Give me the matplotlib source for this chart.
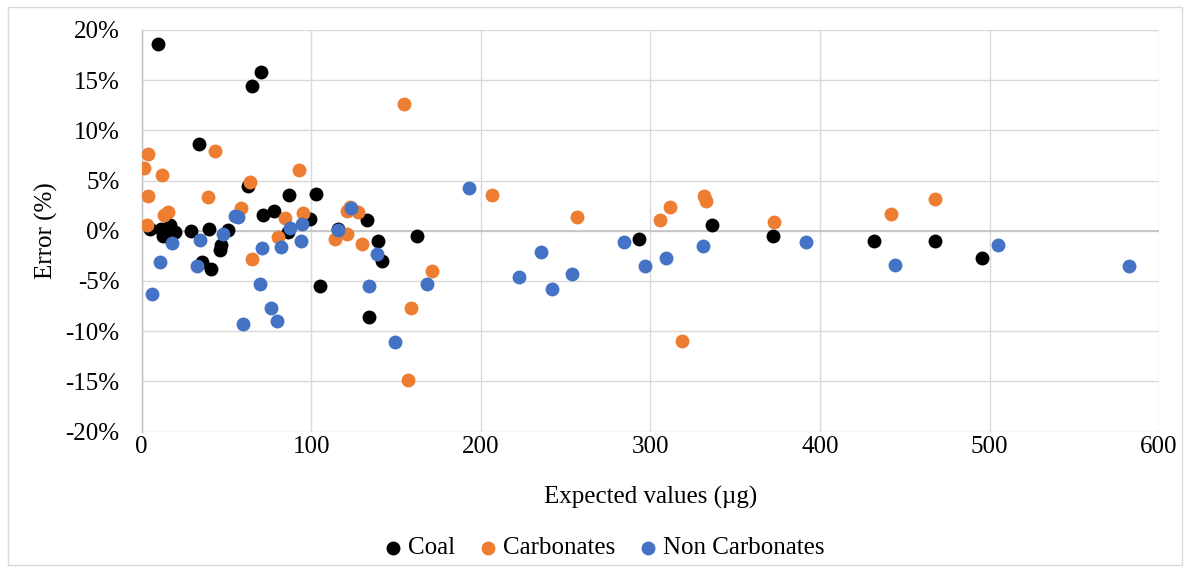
import numpy as np
import matplotlib.pyplot as plt
from matplotlib.patches import Rectangle
from matplotlib.ticker import FuncFormatter

plt.rcParams['font.family'] = ['Liberation Serif', 'DejaVu Serif']

# expected mass (µg) and relative error (%) per sample group
coal_x = [9.8, 70.4, 65.3, 34.0, 62.9, 87.1, 71.7, 78.1, 102.8, 99.3, 86.5,
          4.9, 11.4, 12.6, 16.7, 19.6, 29.1, 39.7, 50.7, 46.8, 46.2, 35.4, 41.0,
          116.0, 133.1, 139.2, 162.6, 141.6, 105.2, 134.1,
          293.4, 336.3, 372.3, 431.6, 467.6, 495.6]
coal_y = [18.6, 15.8, 14.4, 8.6, 4.5, 3.6, 1.6, 2.0, 3.7, 1.2, -0.1,
          0.15, 0.15, -0.5, 0.55, -0.15, 0.0, 0.2, 0.05, -1.4, -1.9, -3.1, -3.8,
          0.2, 1.1, -1.0, -0.5, -3.0, -5.5, -8.6,
          -0.8, 0.55, -0.5, -1.0, -1.0, -2.7]

carb_x = [154.9, 92.8, 3.9, 1.5, 12.2, 43.2, 3.9, 38.9, 63.9, 15.7, 13.4,
          2.9, 58.6, 84.5, 95.0, 80.6, 64.9, 114.0, 121.0, 122.9, 127.8, 121.3,
          129.8, 171.1, 158.7, 157.3,
          206.5, 256.6, 305.8, 311.3, 331.7, 332.7, 373.0, 318.6, 442.1, 468.0]
carb_y = [12.6, 6.0, 7.6, 6.2, 5.5, 7.9, 3.5, 3.4, 4.9, 1.9, 1.6,
          0.55, 2.3, 1.3, 1.8, -0.6, -2.8, -0.8, 2.0, 2.4, 1.9, -0.3,
          -1.35, -4.0, -7.7, -14.9,
          3.6, 1.4, 1.1, 2.4, 3.5, 3.0, 0.9, -11.0, 1.7, 3.2]

noncarb_x = [5.9, 10.8, 17.7, 34.4, 32.4, 48.1, 55.1, 57.0, 69.8, 71.2, 76.3,
             79.6, 59.6, 82.0, 87.5, 94.0, 94.4, 123.3, 116.0, 138.6, 134.1,
             168.5, 149.6, 193.3, 235.4, 222.8, 242.1, 253.9, 284.7, 296.9,
             309.1, 331.0, 391.5, 444.0, 505.0, 582.0]
noncarb_y = [-6.3, -3.1, -1.2, -0.9, -3.5, -0.3, 1.5, 1.4, -5.3, -1.7, -7.7,
             -9.0, -9.3, -1.6, 0.3, -1.0, 0.7, 2.3, 0.05, -2.3, -5.5,
             -5.3, -11.1, 4.3, -2.1, -4.6, -5.8, -4.3, -1.1, -3.5,
             -2.7, -1.5, -1.1, -3.4, -1.45, -3.5]

fig = plt.figure(figsize=(11.9, 5.71), dpi=100)
ax = fig.add_axes([0.1191, 0.2440, 0.8549, 0.7038])

ms = 100
ax.scatter(coal_x, coal_y, s=ms, color='#000000', linewidths=0, label='Coal', zorder=3)
ax.scatter(carb_x, carb_y, s=ms, color='#ED7D31', linewidths=0, label='Carbonates', zorder=4)
ax.scatter(noncarb_x, noncarb_y, s=ms, color='#4472C4', linewidths=0, label='Non Carbonates', zorder=5)

ax.set_xlim(0, 600)
ax.set_ylim(-20, 20)
ax.set_xticks(np.arange(0, 601, 100))
ax.set_yticks(np.arange(-20, 21, 5))
ax.yaxis.set_major_formatter(FuncFormatter(lambda v, p: f'{v:.0f}%'))
ax.grid(True, color='#d9d9d9', linewidth=1.0, zorder=0)
ax.set_axisbelow(True)
ax.axhline(0, color='#bfbfbf', linewidth=1.1, zorder=1)

for side in ['top', 'right', 'bottom']:
    ax.spines[side].set_visible(False)
ax.spines['left'].set_color('#bfbfbf')
ax.spines['left'].set_linewidth(1.0)

ax.tick_params(axis='both', length=0, labelsize=18)
ax.tick_params(axis='y', pad=16)
ax.tick_params(axis='x', pad=3)

ax.set_xlabel('Expected values (µg)', fontsize=18, labelpad=20)
ax.set_ylabel('Error (%)', fontsize=18, labelpad=5)

fig.legend(loc='center', bbox_to_anchor=(605 / 1190, 1 - 548 / 571), ncol=3,
           frameon=False, fontsize=18, handlelength=0.6, handletextpad=0.3,
           columnspacing=1.0, markerscale=1.0)

fig.patches.append(Rectangle((8 / 1190, 1 - 565 / 571), 1174 / 1190, 558 / 571,
                             transform=fig.transFigure, fill=False,
                             edgecolor='#d9d9d9', linewidth=1.0))

fig.savefig('out.png', dpi=100)
